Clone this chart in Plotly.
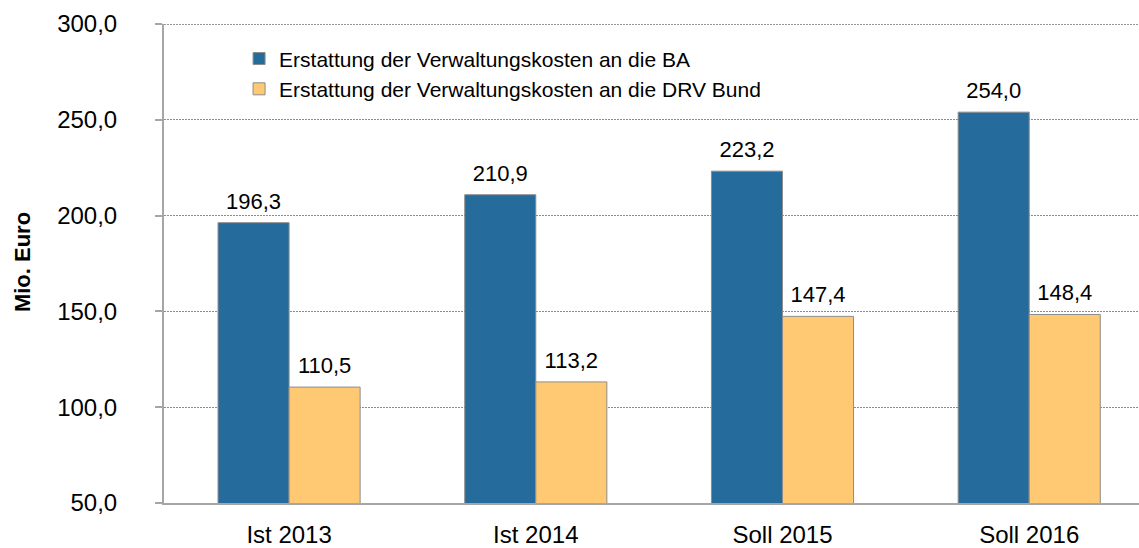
import plotly.graph_objects as go

categories = ["Ist 2013", "Ist 2014", "Soll 2015", "Soll 2016"]
ba_values = [196.3, 210.9, 223.2, 254.0]
drv_values = [110.5, 113.2, 147.4, 148.4]
series_names = ["Erstattung der Verwaltungskosten an die BA",
                "Erstattung der Verwaltungskosten an die DRV Bund"]
y_ticks = [50, 100, 150, 200, 250, 300]

FONT = "Liberation Sans, Arial, sans-serif"
COLORS = ["#256B9C", "#FFC973"]
GAP = 0.424

fig = go.Figure()
for name, vals, col, grp in [(series_names[0], ba_values, COLORS[0], "a"),
                             (series_names[1], drv_values, COLORS[1], "b")]:
    fig.add_trace(go.Bar(
        x=categories, y=vals, name=name, offsetgroup=grp,
        marker=dict(color=col, line=dict(color="#8C8C8C", width=1)),
        hoverinfo="y",
    ))
    # value labels, placed above the bars through a grouped scatter
    fig.add_trace(go.Scatter(
        x=categories, y=vals, offsetgroup=grp, mode="markers+text",
        marker=dict(size=12, opacity=0, color=col),
        text=[f"{v:.1f}".replace(".", ",") for v in vals],
        textposition="top center",
        textfont=dict(size=22, color="#000000", family=FONT),
        showlegend=False, hoverinfo="skip", cliponaxis=False,
    ))

fig.add_shape(type="line", xref="paper", yref="y", x0=0, x1=1, y0=300, y1=300,
              line=dict(color="#303030", width=1, dash="2px,1px"), layer="above")

fig.add_annotation(text="<b>Mio. Euro</b>", xref="paper", yref="paper",
                   x=-0.1456, y=0.503, xanchor="center", yanchor="middle",
                   textangle=-90, showarrow=False,
                   font=dict(size=22, family=FONT, color="#000000"))

fig.update_layout(
    width=1139, height=548,
    margin=dict(l=164, r=0, t=24, b=43),
    paper_bgcolor="white", plot_bgcolor="white",
    separators=",.",
    barmode="group", bargap=GAP, bargroupgap=0,
    scattermode="group", scattergap=GAP,
    font=dict(family=FONT, size=24, color="#000000"),
    showlegend=True,
    legend=dict(x=0.077, y=0.97, xanchor="left", yanchor="top",
                bgcolor="rgba(0,0,0,0)", font=dict(size=21, family=FONT),
                tracegroupgap=0, itemwidth=30),
    xaxis=dict(range=[-0.507, 3.445], showline=True, linecolor="#A6A6A6", linewidth=2,
               ticks="", tickfont=dict(size=24), ticklabelstandoff=9,
               showgrid=False, fixedrange=True),
    yaxis=dict(range=[50, 300], tickvals=y_ticks, tickformat=".1f",
               showline=True, linecolor="#A6A6A6", linewidth=2,
               ticks="outside", ticklen=7, tickcolor="#A6A6A6", tickwidth=2,
               ticklabelstandoff=33,
               showgrid=True, gridcolor="#8A8A8A", griddash="2px,1px", gridwidth=1,
               tickfont=dict(size=24),
               automargin=False, zeroline=False, fixedrange=True),
)

fig.write_html("out.html", config={"displayModeBar": False},
               post_script="document.body.style.margin='0';")
